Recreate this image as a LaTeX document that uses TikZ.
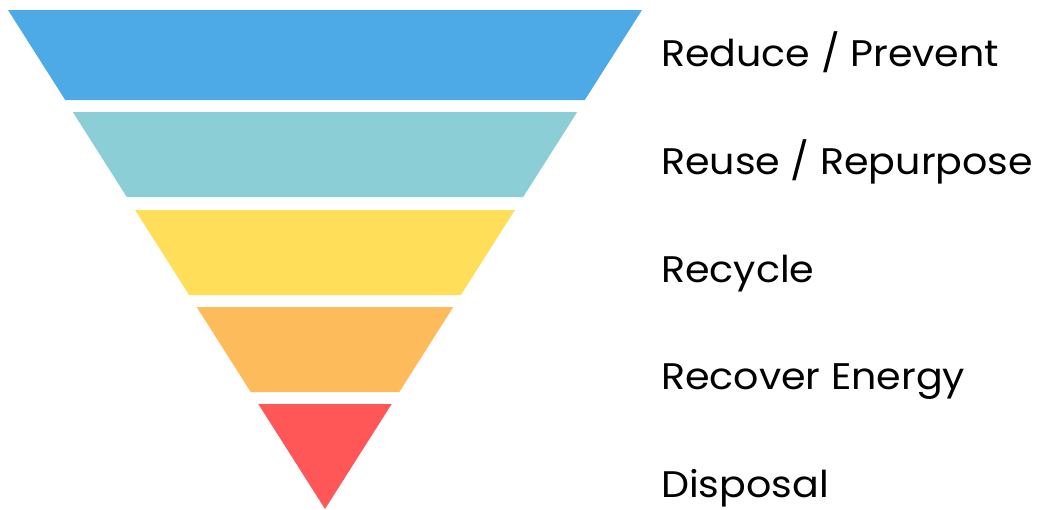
\documentclass[tikz,border=0pt]{standalone}
\usepackage{fontspec}
\setmainfont{Poppins}[FakeStretch=1.07]
\definecolor{bandA}{HTML}{4DAAE6}
\definecolor{bandB}{HTML}{8CCED6}
\definecolor{bandC}{HTML}{FFDE5A}
\definecolor{bandD}{HTML}{FDBB5B}
\definecolor{bandE}{HTML}{FF5757}
\begin{document}
\begin{tikzpicture}[x=1pt,y=-1pt,
  lbl/.style={anchor=base west,inner sep=0pt,font=\fontsize{37}{40}\selectfont,text=black}]
\useasboundingbox (0,0) rectangle (1038,509);
% funnel bands (edges on the lines from (8,10) and (642,10) to apex (325,509))
\fill[bandA] (8,10) -- (642,10) -- (584.8,100) -- (65.2,100) -- cycle;
\fill[bandB] (72.8,112) -- (577.2,112) -- (523.2,197) -- (126.8,197) -- cycle;
\fill[bandC] (135.1,210) -- (514.9,210) -- (460.9,295) -- (189.1,295) -- cycle;
\fill[bandD] (196.7,307) -- (453.3,307) -- (399.3,392) -- (250.7,392) -- cycle;
\fill[bandE] (258.3,404) -- (391.7,404) -- (325,509) -- cycle;
\node[lbl] (l1) at (661,66) {Reduce / Prevent};
\node[lbl] (l2) at (661,174) {Reuse / Repurpose};
\node[lbl] (l3) at (661,282) {Recycle};
\node[lbl] (l4) at (661,389) {Recover Energy};
\node[lbl] (l5) at (661,497) {Disposal};
\end{tikzpicture}
\end{document}
